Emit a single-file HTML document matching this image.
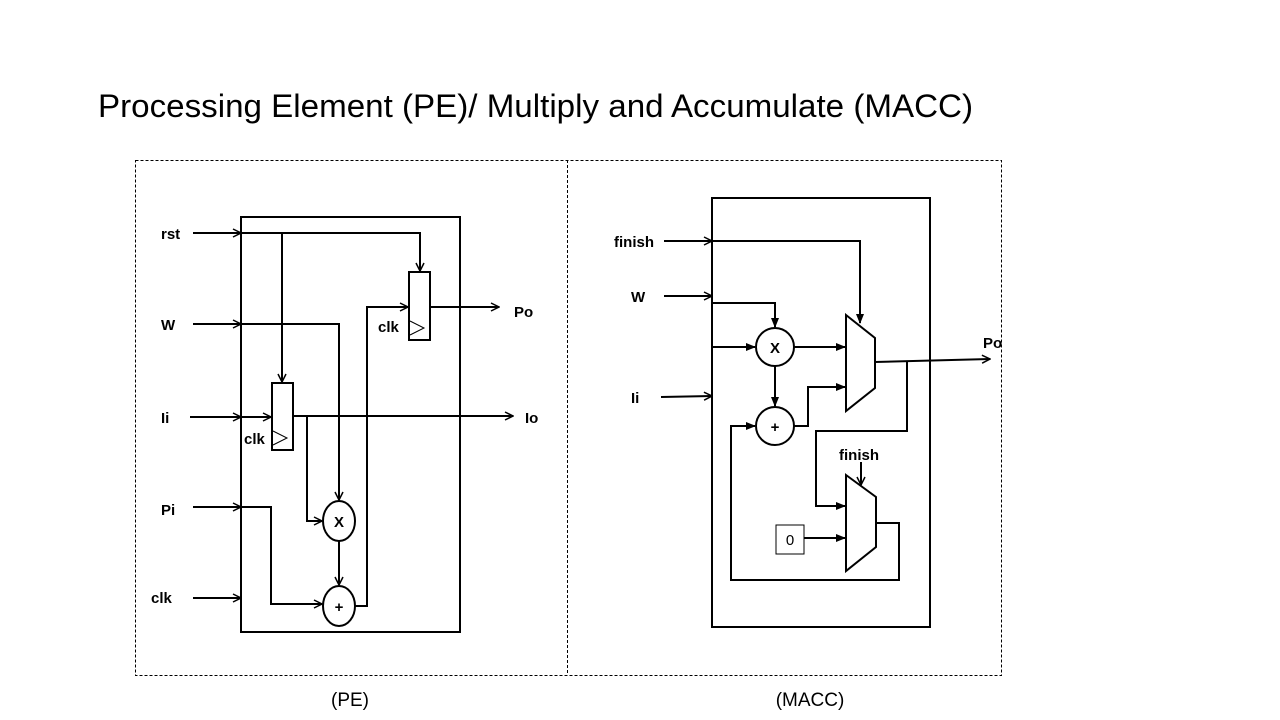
<!DOCTYPE html>
<html><head><meta charset="utf-8"><style>
html,body{margin:0;padding:0;background:#fff;width:1280px;height:720px;overflow:hidden}
text{font-family:"Liberation Sans",sans-serif}
.b{font-weight:bold;font-size:15px}
</style></head><body>
<svg width="1280" height="720" viewBox="0 0 1280 720" xmlns="http://www.w3.org/2000/svg">
<defs>
<marker id="a" markerWidth="10" markerHeight="10" refX="9" refY="5" orient="auto" markerUnits="userSpaceOnUse">
<path d="M1,1 L9,5 L1,9" fill="none" stroke="#000" stroke-width="1.5"/></marker>
<marker id="f" markerWidth="10" markerHeight="10" refX="9" refY="5" orient="auto" markerUnits="userSpaceOnUse">
<path d="M0,1 L10,5 L0,9 Z" fill="#000"/></marker>
</defs>
<text x="98" y="117" font-size="32" textLength="875" lengthAdjust="spacingAndGlyphs">Processing Element (PE)/ Multiply and Accumulate (MACC)</text>
<g fill="none" stroke="#000" stroke-width="1" stroke-dasharray="3,2">
<rect x="135.5" y="160.5" width="866" height="515"/>
<line x1="567.5" y1="160" x2="567.5" y2="675"/>
</g>
<text x="350" y="706" font-size="19" text-anchor="middle">(PE)</text>
<text x="810" y="706" font-size="19" text-anchor="middle">(MACC)</text>

<!-- PE -->
<g fill="none" stroke="#000" stroke-width="2">
<rect x="241" y="217" width="219" height="415"/>
<rect x="409" y="272" width="21" height="68"/>
<rect x="272" y="383" width="21" height="67"/>
<ellipse cx="339" cy="521" rx="16" ry="20"/>
<ellipse cx="339" cy="606" rx="16" ry="20"/>
<line x1="193" y1="233" x2="241" y2="233" marker-end="url(#a)"/>
<polyline points="241,233 420,233 420,271" marker-end="url(#a)"/>
<line x1="282" y1="233" x2="282" y2="382" marker-end="url(#a)"/>
<line x1="193" y1="324" x2="241" y2="324" marker-end="url(#a)"/>
<polyline points="241,324 339,324 339,500" marker-end="url(#a)"/>
<line x1="190" y1="417" x2="241" y2="417" marker-end="url(#a)"/>
<line x1="241" y1="417" x2="271" y2="417" marker-end="url(#a)"/>
<line x1="293" y1="416" x2="513" y2="416" marker-end="url(#a)"/>
<polyline points="307,416 307,521 322,521" marker-end="url(#a)"/>
<line x1="193" y1="507" x2="241" y2="507" marker-end="url(#a)"/>
<polyline points="241,507 271,507 271,604 322,604" marker-end="url(#a)"/>
<line x1="339" y1="541" x2="339" y2="585" marker-end="url(#a)"/>
<polyline points="355,606 367,606 367,307 408,307" marker-end="url(#a)"/>
<line x1="430" y1="307" x2="499" y2="307" marker-end="url(#a)"/>
<line x1="193" y1="598" x2="241" y2="598" marker-end="url(#a)"/>
</g>
<g fill="none" stroke="#000" stroke-width="1">
<polyline points="410,321 424,328 410,335"/>
<polyline points="273,431 287,438 273,445"/>
</g>
<text class="b" x="161" y="239">rst</text>
<text class="b" x="161" y="330">W</text>
<text class="b" x="161" y="423">Ii</text>
<text class="b" x="161" y="515">Pi</text>
<text class="b" x="151" y="603">clk</text>
<text class="b" x="378" y="332">clk</text>
<text class="b" x="244" y="444">clk</text>
<text class="b" x="514" y="317">Po</text>
<text class="b" x="525" y="423">Io</text>
<text class="b" x="339" y="527" text-anchor="middle">X</text>
<text class="b" x="339" y="612" text-anchor="middle">+</text>

<!-- MACC -->
<g fill="none" stroke="#000" stroke-width="2">
<rect x="712" y="198" width="218" height="429"/>
<circle cx="775" cy="347" r="19"/>
<circle cx="775" cy="426" r="19"/>
<polygon points="846,315 875,338 875,388 846,411"/>
<polygon points="846,475 876,497 876,547 846,571"/>
<line x1="664" y1="241" x2="712" y2="241" marker-end="url(#a)"/>
<polyline points="712,241 860,241 860,323" marker-end="url(#f)"/>
<line x1="664" y1="296" x2="712" y2="296" marker-end="url(#a)"/>
<polyline points="712,303 775,303 775,327" marker-end="url(#f)"/>
<line x1="712" y1="347" x2="755" y2="347" marker-end="url(#f)"/>
<line x1="661" y1="397" x2="712" y2="396" marker-end="url(#a)"/>
<line x1="794" y1="347" x2="845" y2="347" marker-end="url(#f)"/>
<line x1="775" y1="366" x2="775" y2="406" marker-end="url(#f)"/>
<polyline points="794,426 808,426 808,387 845,387" marker-end="url(#f)"/>
<line x1="875" y1="362" x2="990" y2="359" marker-end="url(#a)"/>
<polyline points="907,362 907,431 816,431 816,506 845,506" marker-end="url(#f)"/>
<line x1="861" y1="462" x2="861" y2="485" marker-end="url(#a)"/>
<line x1="804" y1="538" x2="845" y2="538" marker-end="url(#f)"/>
<polyline points="876,523 899,523 899,580 731,580 731,426 755,426" marker-end="url(#f)"/>
</g>
<rect x="776" y="525" width="28" height="29" fill="none" stroke="#000" stroke-width="1"/>
<text x="790" y="545" font-size="15" text-anchor="middle">0</text>
<text class="b" x="614" y="247">finish</text>
<text class="b" x="631" y="302">W</text>
<text class="b" x="631" y="403">Ii</text>
<text class="b" x="983" y="348">Po</text>
<text class="b" x="839" y="460">finish</text>
<text class="b" x="775" y="353" text-anchor="middle">X</text>
<text class="b" x="775" y="432" text-anchor="middle">+</text>
</svg>
</body></html>
